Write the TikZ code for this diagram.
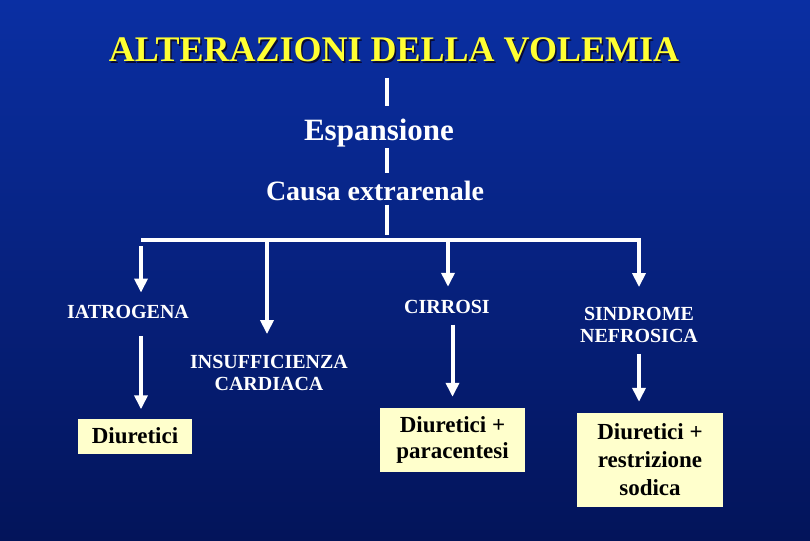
\documentclass[tikz,border=0pt]{standalone}
\usepackage{fontspec}
\setmainfont{Liberation Serif}
\usetikzlibrary{arrows.meta}
\definecolor{folieo}{HTML}{0A2FA3}
\definecolor{folieu}{HTML}{03145A}
\definecolor{titelg}{HTML}{FFFF33}
\definecolor{schatten}{HTML}{0A0A30}
\definecolor{kastg}{HTML}{FFFFCC}
\tikzset{
  linie/.style={white,line width=4pt},
  pfeil/.style={linie,-{Triangle[length=14pt,width=13pt]}},
  titel/.style={text=titelg,inner sep=0pt,anchor=base,font=\bfseries\fontsize{36}{40}\selectfont},
  stufe/.style={text=white,inner sep=0pt,anchor=base},
  marke/.style={text=white,inner sep=0pt,align=center,font=\bfseries\fontsize{20}{22}\selectfont},
  kasten/.style={fill=kastg,text=black,inner sep=0pt,align=center,font=\bfseries\fontsize{23}{26}\selectfont},
}
\begin{document}
\begin{tikzpicture}[x=1pt,y=-1pt]
  \shade[top color=folieo,bottom color=folieu] (0,0) rectangle (810,540);
  % Verzweigungspunkte
  \coordinate (lM) at (387,240);
  \coordinate (lA) at (141,240);
  \coordinate (lB) at (267,240);
  \coordinate (lC) at (448,240);
  \coordinate (lD) at (639,240);
  \node[titel,text=schatten] (titels) at (395.5,63.5) {ALTERAZIONI DELLA VOLEMIA};
  \node[titel] (titel) at (394,62) {ALTERAZIONI DELLA VOLEMIA};
  \node[stufe,font=\bfseries\fontsize{31}{34}\selectfont] (esp) at (379,141) {Espansione};
  \node[stufe,font=\bfseries\fontsize{28}{32}\selectfont] (causa) at (375,200) {Causa extrarenale};
  \node[marke] (iatro) at (128,311.5) {IATROGENA};
  \node[marke] (insuff) at (269,373) {INSUFFICIENZA\\CARDIACA};
  \node[marke] (cirr) at (447,306.7) {CIRROSI};
  \node[marke] (sind) at (639,325) {SINDROME\\NEFROSICA};
  \node[kasten,minimum width=114pt,minimum height=35pt] (diur) at (135,436) {Diuretici};
  \node[kasten,minimum width=145pt,minimum height=64pt] (para) at (452.5,440) {Diuretici +\\paracentesi};
  \node[kasten,minimum width=146pt,minimum height=94pt,font=\bfseries\fontsize{23}{28}\selectfont] (sodica) at (650,460) {Diuretici +\\restrizione\\sodica};
  % Stamm
  \draw[linie,shorten <=15pt,shorten >=13.5pt] (titel.south -| lM) -- (esp.north -| lM);
  \draw[linie,shorten >=7pt] (esp.south -| lM) -- (causa.north -| lM);
  \draw[linie,shorten <=4pt,shorten >=5pt] (causa.south -| lM) -- (lM);
  % Aeste
  \draw[pfeil,shorten >=20pt] (lA) -- (lD) -- (sind.north -| lD);
  \draw[pfeil,shorten <=6pt,shorten >=12pt] (lA) -- (iatro.north -| lA);
  \draw[pfeil,shorten >=21pt] (lB) -- (insuff.north -| lB);
  \draw[pfeil,shorten >=13pt] (lC) -- (cirr.north -| lC);
  \draw[pfeil,shorten <=18pt,shorten >=9pt] (iatro.south -| lA) -- (diur.north -| lA);
  \draw[pfeil,shorten <=11pt,shorten >=11pt] (cirr.south -| para.north) -- (para.north);
  \draw[pfeil,shorten <=11pt,shorten >=11pt] (sind.south -| lD) -- (sodica.north -| lD);
\end{tikzpicture}
\end{document}
